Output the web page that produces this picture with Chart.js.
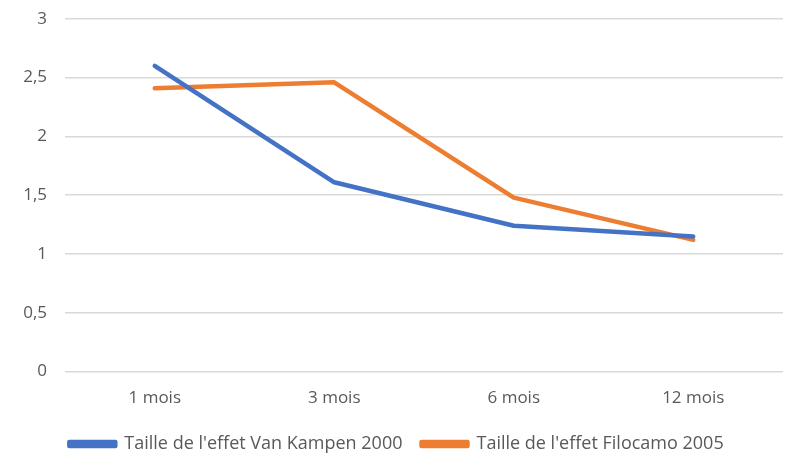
<!DOCTYPE html>
<html>
<head>
<meta charset="utf-8">
<script src="https://cdn.jsdelivr.net/npm/chart.js@4/dist/chart.umd.min.js"></script>
<style>
  html, body { margin: 0; padding: 0; background: #ffffff; }
  #wrap { width: 792px; height: 468px; position: relative; }
</style>
</head>
<body>
<div id="wrap"><canvas id="graphique"></canvas></div>
<script>
// ========================================
// DONNÉES
// ========================================
const mois = ['1 mois', '3 mois', '6 mois', '12 mois'];
const vanKampen = [2.60, 1.61, 1.24, 1.15];
const filocamo = [2.41, 2.46, 1.48, 1.12];
const nomsSeries = ["Taille de l'effet Van Kampen 2000", "Taille de l'effet Filocamo 2005"];

const gris = '#595959';
const police = "'Open Sans', 'DejaVu Sans', sans-serif";

// ========================================
// GRAPHIQUE
// ========================================
const ctx = document.getElementById('graphique').getContext('2d');
new Chart(ctx, {
    type: 'line',
    data: {
        labels: mois,
        datasets: [{
            label: nomsSeries[0],
            data: vanKampen,
            borderColor: '#4472c4',
            backgroundColor: '#4472c4',
            borderWidth: 4.5,
            pointRadius: 0,
            pointHoverRadius: 0,
            tension: 0,
            borderCapStyle: 'round',
            borderJoinStyle: 'round'
        }, {
            label: nomsSeries[1],
            data: filocamo,
            borderColor: '#ed7d31',
            backgroundColor: '#ed7d31',
            borderWidth: 4.5,
            pointRadius: 0,
            pointHoverRadius: 0,
            tension: 0,
            borderCapStyle: 'round',
            borderJoinStyle: 'round'
        }]
    },
    options: {
        responsive: true,
        maintainAspectRatio: false,
        animation: false,
        layout: {
            autoPadding: false,
            padding: { left: 10, right: 9, top: 17, bottom: 5 }
        },
        plugins: {
            legend: {
                position: 'bottom',
                labels: {
                    color: gris,
                    font: { family: police, size: 18 },
                    boxWidth: 46,
                    boxHeight: 4,
                    padding: 19
                }
            },
            tooltip: { enabled: false }
        },
        scales: {
            x: {
                offset: true,
                grid: { display: false },
                border: { display: false },
                ticks: {
                    color: gris,
                    font: { family: police, size: 17 },
                    padding: 8
                }
            },
            y: {
                min: 0,
                max: 3,
                afterFit: function(scale) { scale.width = 55; },
                grid: { color: '#d9d9d9', lineWidth: 1.5, drawTicks: false },
                border: { display: false },
                ticks: {
                    stepSize: 0.5,
                    color: gris,
                    font: { family: police, size: 17, lineHeight: 0.1 },
                    padding: 18,
                    callback: function(value) {
                        return String(value).replace('.', ',');
                    }
                }
            }
        }
    }
});
</script>
</body>
</html>
